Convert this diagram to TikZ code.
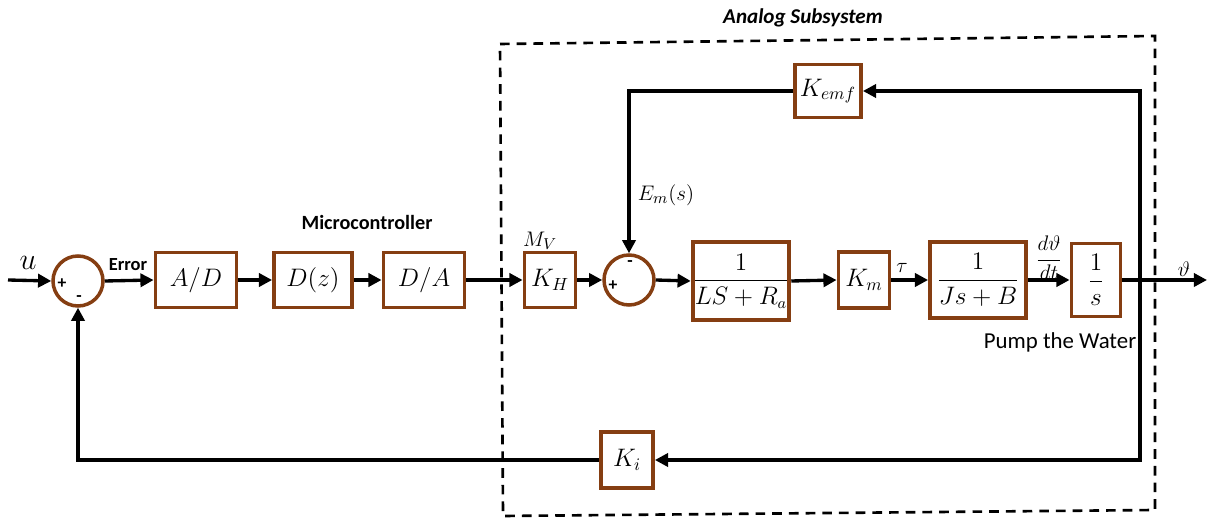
\documentclass[tikz,border=0pt]{standalone}
\usepackage{amsmath}
\usepackage{fontspec}
\newfontfamily\labfont{Carlito}
\usetikzlibrary{arrows.meta}
\definecolor{boxbrown}{RGB}{133,62,18}
\begin{document}
\begin{tikzpicture}[x=0.02cm,y=-0.02cm,
  blk/.style={draw=boxbrown,line width=2.2pt,fill=white,inner sep=2pt,font=\fontsize{14.5}{17}\selectfont},
  sumc/.style={draw=boxbrown,line width=2pt,circle,minimum size=1.0cm,inner sep=0pt},
  conn/.style={line width=1.9pt,draw=black},
  arr/.style={conn,-{Triangle[length=7.5pt,width=7.5pt]}},
  lab/.style={inner sep=0pt},
  sgn/.style={inner sep=0pt,font=\labfont\bfseries\fontsize{10}{12}\selectfont}]
\useasboundingbox (0,0) rectangle (1209,519);
% dashed analog subsystem border
\draw[line width=1.5pt,dash pattern=on 5.5pt off 4pt] (500,44) -- (1155,36) -- (1155,510) -- (503,516) -- cycle;
\node[lab,font=\labfont\bfseries\itshape\fontsize{12}{14}\selectfont] (analog) at (803,18) {Analog Subsystem};
% nodes
\node[sumc] (s1) at (78,281) {};
\node[sgn] (p1) at (62,284) {+};
\node[sgn] (m1) at (79,299) {-};
\node[blk,minimum width=1.62cm,minimum height=1.1cm] (ad) at (196,280) {$A/D$};
\node[blk,minimum width=1.56cm,minimum height=1.1cm] (dz) at (313,280) {$D(z)$};
\node[blk,minimum width=1.62cm,minimum height=1.1cm] (da) at (424,280) {$D/A$};
\node[blk,minimum width=1.02cm,minimum height=1.1cm] (kh) at (550,280) {$K_H$};
\node[sumc] (s2) at (629,280) {};
\node[sgn] (p2) at (613,286) {+};
\node[sgn] (m2) at (630,264) {-};
\node[blk,inner sep=0pt,font=\fontsize{13.5}{16}\selectfont,minimum width=1.82cm,minimum height=1.56cm] (b1) at (741,281) {$\dfrac{1}{LS+R_a}$};
\node[blk,minimum width=1.02cm,minimum height=1.12cm] (km) at (864,280) {$K_m$};
\node[blk,inner sep=0pt,minimum width=1.92cm,minimum height=1.52cm] (b2) at (978,280) {$\dfrac{1}{Js+B}$};
\node[blk,minimum width=0.98cm,minimum height=1.46cm] (b3) at (1096,280) {$\dfrac{1}{s}$};
\node[blk,minimum width=1.32cm,minimum height=1.06cm] (kemf) at (828,91) {$K_{emf}$};
\node[blk,minimum width=1.04cm,minimum height=1.12cm] (ki) at (627,460) {$K_i$};
% labels
\node[lab,font=\fontsize{16}{18}\selectfont] (ulab) at (28,263) {$u$};
\node[lab,font=\labfont\bfseries\fontsize{10.5}{12}\selectfont] (err) at (128,265) {Error};
\node[lab,font=\labfont\bfseries\fontsize{11.5}{14}\selectfont] (micro) at (367,222) {Microcontroller};
\node[lab,font=\fontsize{12.5}{14}\selectfont] (mv) at (540,241) {$M_V$};
\node[lab,font=\fontsize{13}{15}\selectfont] (em) at (666,195) {$E_m(s)$};
\node[lab,font=\fontsize{13}{15}\selectfont] (tau) at (902,268) {$\tau$};
\node[lab,font=\fontsize{12.5}{14}\selectfont] (dth) at (1049,258) {$\dfrac{d\vartheta}{dt}$};
\node[lab,font=\fontsize{12.5}{14}\selectfont] (th) at (1184,269) {$\vartheta$};
\node[lab,font=\labfont\fontsize{13}{15}\selectfont] (pump) at (1060,342) {Pump the Water};
% coordinates
\coordinate (uin) at (8,280);
\coordinate (yout) at (1207,280);
\coordinate (br) at (1140,280);
% connectors
\draw[arr] (uin) -- (s1.west);
\draw[arr] (s1.east) -- (ad.west);
\draw[arr] (ad.east) -- (dz.west);
\draw[arr] (dz.east) -- (da.west);
\draw[arr] (da.east) -- (kh.west);
\draw[arr] (kh.east) -- (s2.west);
\draw[arr] (s2.east) -- (b1.west);
\draw[arr] (b1.east) -- (km.west);
\draw[arr] (km.east) -- (b2.west);
\draw[arr] (b2.east) -- (b3.west);
\draw[arr] (b3.east) -- (yout);
\draw[arr] (br) |- (kemf.east);
\draw[arr] (kemf.west) -| (s2.north);
\draw[arr] (br) |- (ki.east);
\draw[arr] (ki.west) -| (s1.south);
\end{tikzpicture}
\end{document}
